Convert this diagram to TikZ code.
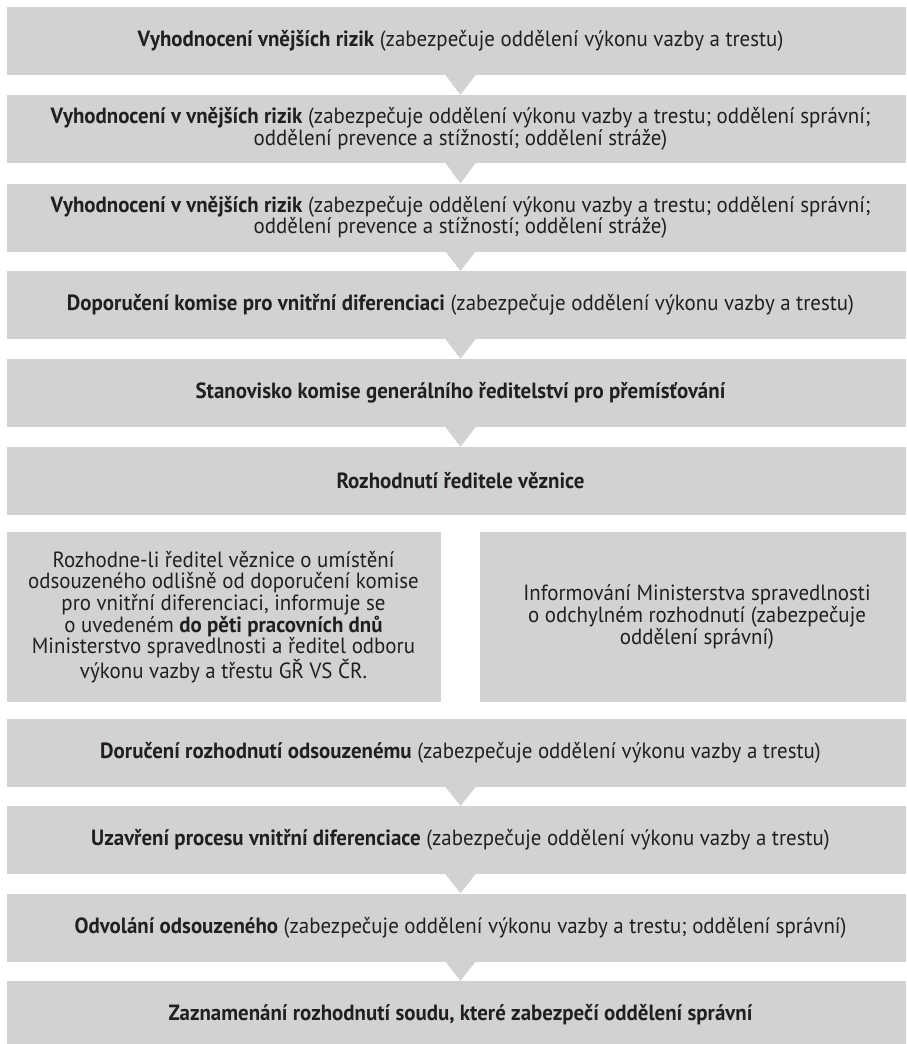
\documentclass[tikz,border=0pt]{standalone}
\usepackage{fontspec}
\setmainfont{PT Sans}[FakeStretch=0.95]
\definecolor{boxgrey}{RGB}{209,210,212}
\definecolor{txt}{RGB}{35,31,32}
\begin{document}
\begin{tikzpicture}[x=1pt,y=-1pt,
  box/.style={fill=boxgrey,draw=none,inner sep=0pt,align=center,text=txt,
    font=\fontsize{22}{21.7}\selectfont},
  wide/.style={box,minimum width=907pt,minimum height=68pt},
  half/.style={box,minimum width=434pt,minimum height=170pt},
  tri/.style={fill=boxgrey,draw=none}]
\useasboundingbox (0,0) rectangle (906,1044);
\clip (0,0) rectangle (906,1044);
\node[wide] (b1) at (460.5,41) {\textbf{Vyhodnocení vnějších rizik} (zabezpečuje oddělení výkonu vazby a trestu)};
\node[wide] (b2) at (460.5,129) {\textbf{Vyhodnocení v vnějších rizik} (zabezpečuje oddělení výkonu vazby a trestu; oddělení správní;\\ oddělení prevence a stížností; oddělení stráže)};
\node[wide] (b3) at (460.5,217.5) {\textbf{Vyhodnocení v vnějších rizik} (zabezpečuje oddělení výkonu vazby a trestu; oddělení správní;\\ oddělení prevence a stížností; oddělení stráže)};
\node[wide] (b4) at (460.5,305) {\textbf{Doporučení komise pro vnitřní diferenciaci} (zabezpečuje oddělení výkonu vazby a trestu)};
\node[wide] (b5) at (460.5,393) {\textbf{Stanovisko komise generálního ředitelství pro přemísťování}};
\node[wide] (b6) at (460.5,481) {\textbf{Rozhodnutí ředitele věznice}};
\node[half] (b7l) at (223.5,617) {Rozhodne-li ředitel věznice o umístění\\ odsouzeného odlišně od doporučení komise\\ pro vnitřní diferenciaci, informuje se\\ o uvedeném \textbf{do pěti pracovních dnů}\\ Ministerstvo spravedlnosti a ředitel odboru\\ výkonu vazby a třestu GŘ VS ČR.};
\node[half] (b7r) at (697,617) {Informování Ministerstva spravedlnosti\\ o odchylném rozhodnutí (zabezpečuje\\ oddělení správní)};
\node[wide] (b8) at (460.5,753) {\textbf{Doručení rozhodnutí odsouzenému} (zabezpečuje oddělení výkonu vazby a trestu)};
\node[wide] (b9) at (460.5,840) {\textbf{Uzavření procesu vnitřní diferenciace} (zabezpečuje oddělení výkonu vazby a trestu)};
\node[wide] (b10) at (460.5,927.5) {\textbf{Odvolání odsouzeného} (zabezpečuje oddělení výkonu vazby a trestu; oddělení správní)};
\node[wide] (b11) at (460.5,1015) {\textbf{Zaznamenání rozhodnutí soudu, které zabezpečí oddělení správní}};
\foreach \a/\b in {b1/b2,b2/b3,b3/b4,b4/b5,b5/b6,b8/b9,b9/b10,b10/b11}{
  \fill[tri] ([xshift=-15pt]\a.south) -- ([xshift=15pt]\a.south) -- (\b.north) -- cycle;
}
\end{tikzpicture}
\end{document}
